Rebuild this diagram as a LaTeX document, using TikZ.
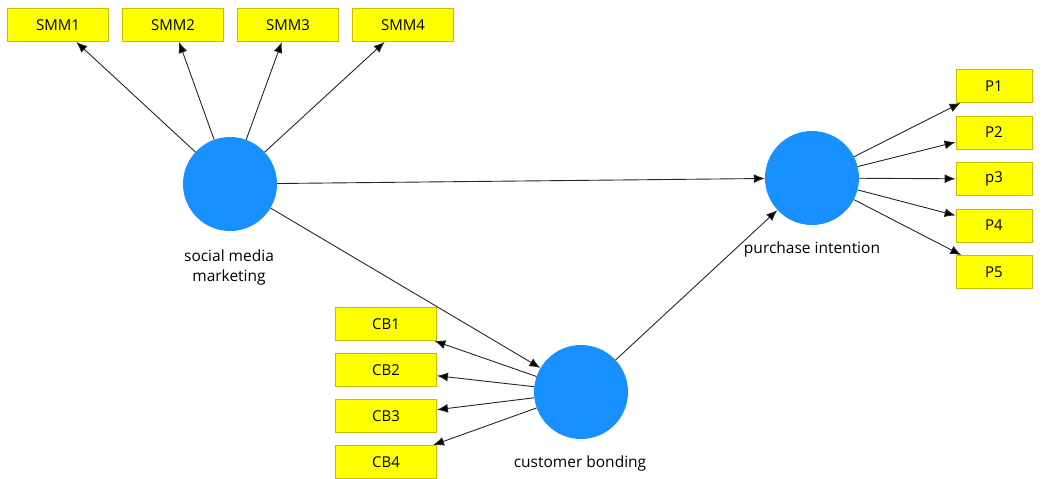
\documentclass[tikz,border=0pt]{standalone}
\usepackage{fontspec}
\setmainfont{Open Sans}
\usepackage{tikz}
\usetikzlibrary{positioning,arrows.meta}

\definecolor{lvblue}{RGB}{25,144,255}
\definecolor{mvyellow}{RGB}{255,255,0}
\definecolor{mvedge}{RGB}{200,190,0}

\tikzset{
	latent/.style={circle,fill=lvblue,minimum size=94pt,inner sep=0pt},
	item/.style={rectangle,draw=mvedge,fill=mvyellow,line width=0.8pt,
		minimum width=101pt,minimum height=33pt,inner sep=0pt,font=\fontsize{15}{17}\selectfont},
	pitem/.style={item,minimum width=76pt},
	lab/.style={font=\fontsize{15.5}{20}\selectfont,align=center},
	path/.style={draw=black!85,line width=0.9pt,-{Latex[length=11pt,width=9pt]}}
}

\begin{document}
\begin{tikzpicture}[x=1pt,y=-1pt,on grid]
			\useasboundingbox (0,0) rectangle (1047,479);
			% constructs
			\node[latent] (smm) at (230,184) {};
			\node[latent] (pi) at (812,178) {};
			\node[latent] (cb) at (581,392) {};
			\node[lab] (smm_l) at (229,267) {social media\\marketing};
			\node[lab] (pi_l) at (812,249) {purchase intention};
			\node[lab] (cb_l) at (580,463) {customer bonding};
			% indicators
			\node[item] (smm_1) at (58,25) {SMM1};
			\node[item] (smm_2) [right=115pt of smm_1] {SMM2};
			\node[item] (smm_3) [right=115pt of smm_2] {SMM3};
			\node[item] (smm_4) [right=115pt of smm_3] {SMM4};
			\node[pitem] (p_1) at (994,86) {P1};
			\node[pitem] (p_2) [below=46.5pt of p_1] {P2};
			\node[pitem] (p_3) [below=46.5pt of p_2] {p3};
			\node[pitem] (p_4) [below=46.5pt of p_3] {P4};
			\node[pitem] (p_5) [below=46.5pt of p_4] {P5};
			\node[item] (cb_1) at (386,324) {CB1};
			\node[item] (cb_2) [below=46pt of cb_1] {CB2};
			\node[item] (cb_3) [below=46pt of cb_2] {CB3};
			\node[item] (cb_4) [below=46pt of cb_3] {CB4};
			\path[path]
			(smm) edge (smm_1) edge (smm_2) edge (smm_3) edge (smm_4)
			edge (pi) edge (cb)
			(cb) edge (pi)
			edge (cb_1) edge (cb_2) edge (cb_3) edge (cb_4)
			(pi) edge (p_1) edge (p_2) edge (p_3) edge (p_4) edge (p_5);
		\end{tikzpicture}
\end{document}
